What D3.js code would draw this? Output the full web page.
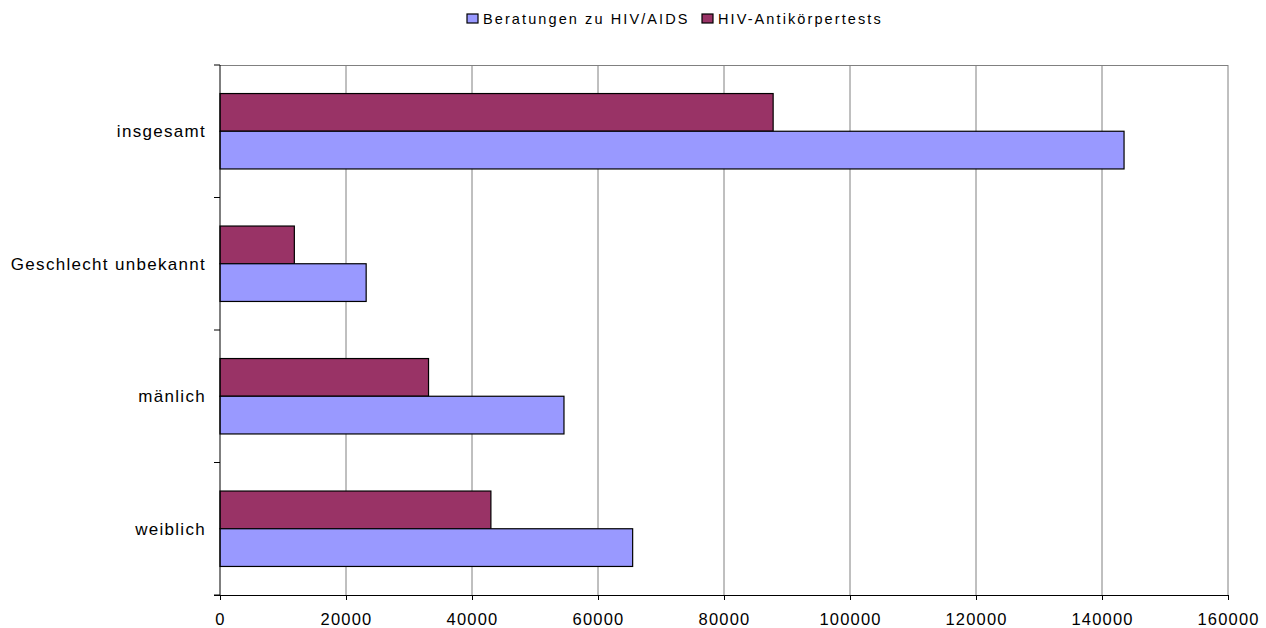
<!DOCTYPE html>
<html>
<head>
<meta charset="utf-8">
<script src="https://cdn.jsdelivr.net/npm/d3@7"></script>
<style>
  body { margin: 0; background: #fff; }
  text { font-family: "Liberation Sans", Arial, sans-serif; fill: #000; }
</style>
</head>
<body>
<div id="chart"></div>
<script>
let categories = ["insgesamt", "Geschlecht unbekannt", "mänlich", "weiblich"];
let seriesNames = ["Beratungen zu HIV/AIDS", "HIV-Antikörpertests"];
let beratungen = [143500, 23200, 54600, 65500];
let tests = [87800, 11800, 33100, 43000];
let xTicks = [0, 20000, 40000, 60000, 80000, 100000, 120000, 140000, 160000];

let kCanvas = { w: 1266, h: 628 };
let kChart = { x: 220, y: 65, w: 1008, h: 530 };
let kColors = { beratungen: "#9999FF", tests: "#993366", grid: "#808080" };

let svg = d3.select("#chart").append("svg")
  .attr("width", kCanvas.w)
  .attr("height", kCanvas.h);

let x = d3.scaleLinear()
  .domain([0, 160000])
  .range([kChart.x, kChart.x + kChart.w]);

let y = d3.scaleBand()
  .domain(categories)
  .range([kChart.y, kChart.y + kChart.h])
  .padding(0);

// Within each category: tests on top, beratungen below
let ySub = d3.scaleBand()
  .domain(["tests", "beratungen"])
  .range([0, y.bandwidth()])
  .paddingInner(0)
  .paddingOuter(0.757);

// grid lines (vertical) + top border
svg.append("g").selectAll("line")
  .data(xTicks.slice(1))
  .join("line")
  .attr("x1", d => x(d)).attr("x2", d => x(d))
  .attr("y1", kChart.y).attr("y2", kChart.y + kChart.h)
  .attr("stroke", kColors.grid)
  .attr("stroke-width", 1);

svg.append("line")
  .attr("x1", kChart.x).attr("x2", kChart.x + kChart.w)
  .attr("y1", kChart.y + 0.5).attr("y2", kChart.y + 0.5)
  .attr("stroke", kColors.grid);

// bars
let rows = categories.map((c, i) => ({ cat: c, beratungen: beratungen[i], tests: tests[i] }));

let groups = svg.append("g").selectAll("g")
  .data(rows)
  .join("g")
  .attr("transform", d => "translate(0," + y(d.cat) + ")");

["tests", "beratungen"].forEach(function(key) {
  groups.append("rect")
    .attr("x", x(0))
    .attr("y", ySub(key))
    .attr("width", d => x(d[key]) - x(0))
    .attr("height", ySub.bandwidth())
    .attr("fill", kColors[key])
    .attr("stroke", "#000")
    .attr("stroke-width", 1.2);
});

// x axis
let xAxis = d3.axisBottom(x)
  .tickValues(xTicks)
  .tickSize(5)
  .tickPadding(13)
  .tickFormat(d => String(d));

let gx = svg.append("g")
  .attr("transform", "translate(0," + (kChart.y + kChart.h) + ")")
  .call(xAxis);
gx.select(".domain").attr("stroke", "#000").attr("d", "M" + (kChart.x - 6) + ",0.5H" + (kChart.x + kChart.w));
gx.selectAll(".tick line").attr("stroke", "#000");
gx.selectAll(".tick text")
  .style("font-family", "Liberation Sans, Arial, sans-serif")
  .style("font-size", "16.5px")
  .style("letter-spacing", "1.2px")
  .attr("fill", "#000");

// y axis line + ticks at band boundaries
let yBounds = categories.map(c => y(c)).concat([kChart.y + kChart.h]);
svg.append("line")
  .attr("x1", kChart.x).attr("x2", kChart.x)
  .attr("y1", kChart.y).attr("y2", kChart.y + kChart.h)
  .attr("stroke", "#000");
svg.append("g").selectAll("line")
  .data(yBounds)
  .join("line")
  .attr("x1", kChart.x - 6).attr("x2", kChart.x)
  .attr("y1", d => d).attr("y2", d => d)
  .attr("stroke", "#000");

// category labels
svg.append("g").selectAll("text")
  .data(categories)
  .join("text")
  .attr("x", 206)
  .attr("y", d => y(d) + y.bandwidth() / 2 + 6)
  .attr("text-anchor", "end")
  .style("font-size", "17px")
  .style("letter-spacing", "1.3px")
  .text(d => d);

// legend
let legend = [
  { name: seriesNames[0], color: kColors.beratungen, sx: 467, tx: 483 },
  { name: seriesNames[1], color: kColors.tests, sx: 702, tx: 718 }
];
let lg = svg.append("g").selectAll("g")
  .data(legend)
  .join("g");
lg.append("rect")
  .attr("x", d => d.sx).attr("y", 14)
  .attr("width", 11).attr("height", 9)
  .attr("fill", d => d.color)
  .attr("stroke", "#000")
  .attr("stroke-width", 1.2);
lg.append("text")
  .attr("x", d => d.tx).attr("y", 24)
  .style("font-size", "14.5px")
  .style("letter-spacing", "2.1px")
  .text(d => d.name);
</script>
</body>
</html>
